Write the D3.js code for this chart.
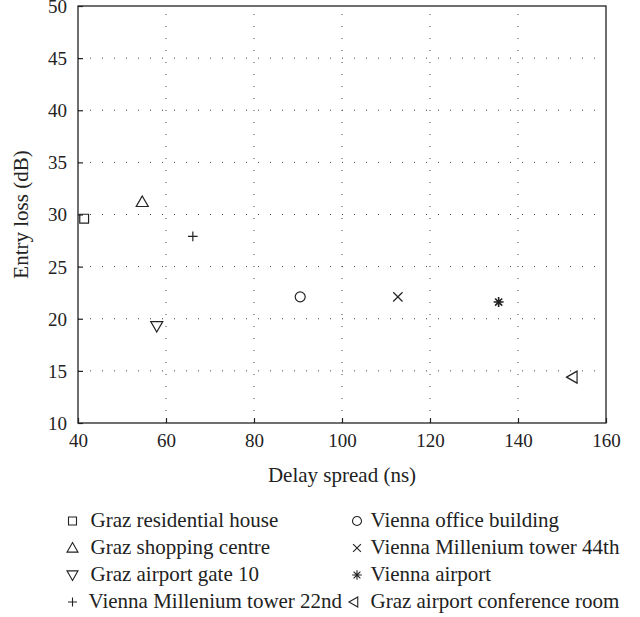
<!DOCTYPE html>
<html>
<head>
<meta charset="utf-8">
<script src="https://cdn.jsdelivr.net/npm/d3@7"></script>
<style>
  body { margin: 0; background: #fff; }
</style>
</head>
<body>
<svg id="chart"></svg>
<script>
const sites = [
  "Graz residential house",
  "Graz shopping centre",
  "Graz airport gate 10",
  "Vienna Millenium tower 22nd",
  "Vienna office building",
  "Vienna Millenium tower 44th",
  "Vienna airport",
  "Graz airport conference room",
];
const markers = ["square", "triUp", "triDown", "plus", "circle", "cross", "star", "triLeft"];
const delaySpread = [41.4, 54.6, 57.9, 66.1, 90.5, 112.7, 135.6, 152.4];
const entryLoss = [29.6, 31.2, 19.3, 27.9, 22.1, 22.1, 21.6, 14.4];
const xTicks = [40, 60, 80, 100, 120, 140, 160];
const yTicks = [10, 15, 20, 25, 30, 35, 40, 45, 50];

const FONT = "Liberation Serif";
const svgWidth = 640;
const svgHeight = 617;
const m_left = 78;
const m_top = 6;
const width = 606 - m_left;
const height = 423 - m_top;

const svg = d3.select("#chart")
  .attr("width", svgWidth)
  .attr("height", svgHeight)
  .attr("font-family", FONT);
const plot = svg.append("g").attr("transform", `translate(${m_left}, ${m_top})`);

const xScale = d3.scaleLinear().domain([40, 160]).range([0, width]);
const yScale = d3.scaleLinear().domain([10, 50]).range([height, 0]);

// marker shapes, s = half size
function markerPath(type, s) {
  const p = d3.path();
  if (type === "square") {
    p.rect(-s, -s, 2 * s, 2 * s);
  } else if (type === "circle") {
    p.arc(0, 0, s, 0, 2 * Math.PI);
  } else if (type === "triUp") {
    p.moveTo(0, -s); p.lineTo(s, s * 0.75); p.lineTo(-s, s * 0.75); p.closePath();
  } else if (type === "triDown") {
    p.moveTo(0, s); p.lineTo(s, -s * 0.75); p.lineTo(-s, -s * 0.75); p.closePath();
  } else if (type === "triLeft") {
    p.moveTo(-s, 0); p.lineTo(s * 0.75, -s); p.lineTo(s * 0.75, s); p.closePath();
  } else if (type === "plus") {
    p.moveTo(-s, 0); p.lineTo(s, 0); p.moveTo(0, -s); p.lineTo(0, s);
  } else if (type === "cross") {
    const c = s * 0.75;
    p.moveTo(-c, -c); p.lineTo(c, c); p.moveTo(-c, c); p.lineTo(c, -c);
  } else if (type === "star") {
    for (let i = 0; i < 4; i++) {
      const a = (i * Math.PI) / 4;
      p.moveTo(-s * Math.cos(a), -s * Math.sin(a));
      p.lineTo(s * Math.cos(a), s * Math.sin(a));
    }
  }
  return p.toString();
}

const plotSize = { square: 4.4, circle: 5, triUp: 6, triDown: 6, triLeft: 6, plus: 4.8, cross: 6.2, star: 5 };
const legendSize = { square: 4, circle: 4.5, triUp: 5.5, triDown: 5.5, triLeft: 5, plus: 4.5, cross: 5.2, star: 4.8 };

// dotted grid
plot.append("g")
  .selectAll("line")
  .data(xTicks.slice(1, -1))
  .join("line")
  .attr("x1", (d) => xScale(d)).attr("x2", (d) => xScale(d))
  .attr("y1", height).attr("y2", 0)
  .attr("stroke", "#444").attr("stroke-width", 1)
  .attr("stroke-dasharray", "1,11");
plot.append("g")
  .selectAll("line")
  .data(yTicks.slice(1, -1))
  .join("line")
  .attr("x1", 0).attr("x2", width)
  .attr("y1", (d) => yScale(d)).attr("y2", (d) => yScale(d))
  .attr("stroke", "#444").attr("stroke-width", 1)
  .attr("stroke-dasharray", "1,11");

// axes
const xAxis = plot.append("g")
  .attr("transform", `translate(0, ${height})`)
  .call(d3.axisBottom(xScale).tickValues(xTicks).tickSizeInner(-5).tickSizeOuter(0).tickPadding(11));
const yAxis = plot.append("g")
  .call(d3.axisLeft(yScale).tickValues(yTicks).tickSizeInner(-5).tickSizeOuter(0).tickPadding(11));
[xAxis, yAxis].forEach((ax) => {
  ax.attr("font-family", FONT).attr("font-size", 19);
  ax.select(".domain").remove();
  ax.selectAll("line").attr("stroke", "#222").attr("stroke-width", 1.2);
  ax.selectAll("text").attr("fill", "#222");
});
yAxis.selectAll("text").attr("dy", "0.34em");

plot.append("rect")
  .attr("width", width).attr("height", height)
  .attr("fill", "none").attr("stroke", "#222").attr("stroke-width", 1.3);

// points
plot.selectAll(".pt")
  .data(sites)
  .join("path")
  .attr("class", "pt")
  .attr("transform", (d, i) => `translate(${xScale(delaySpread[i])}, ${yScale(entryLoss[i])})`)
  .attr("d", (d, i) => markerPath(markers[i], plotSize[markers[i]]))
  .attr("fill", "none")
  .attr("stroke", "#222")
  .attr("stroke-width", (d, i) => (markers[i] === "star" ? 1.6 : 1.2));

// axis labels
svg.append("text")
  .attr("x", m_left + width / 2).attr("y", 482)
  .attr("text-anchor", "middle")
  .attr("font-size", 21).attr("fill", "#222")
  .text("Delay spread (ns)");
svg.append("text")
  .attr("transform", `translate(28, ${m_top + height / 2}) rotate(-90)`)
  .attr("text-anchor", "middle")
  .attr("font-size", 21).attr("fill", "#222")
  .text("Entry loss (dB)");

// legend
const legendRows = [521, 548, 575, 602];
const legend = svg.append("g");
sites.forEach((name, i) => {
  const col = Math.floor(i / 4);
  const row = i % 4;
  const mx = col === 0 ? 72.5 : (markers[i] === "triLeft" ? 354 : 357);
  const tx = col === 0 ? (markers[i] === "plus" ? 88.5 : 90.5) : 370.5;
  legend.append("path")
    .attr("transform", `translate(${mx}, ${legendRows[row]})`)
    .attr("d", markerPath(markers[i], legendSize[markers[i]]))
    .attr("fill", "none").attr("stroke", "#222").attr("stroke-width", 1.1);
  legend.append("text")
    .attr("x", tx).attr("y", legendRows[row] + 6)
    .attr("font-size", 21).attr("fill", "#222")
    .text(name);
});
</script>
</body>
</html>
